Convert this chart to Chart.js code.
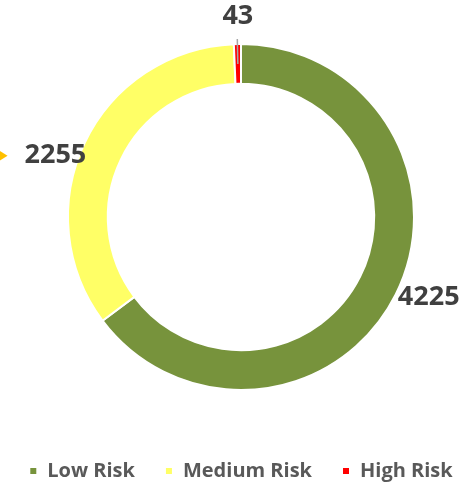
<!DOCTYPE html>
<html>
<head>
<meta charset="utf-8">
<script src="https://cdn.jsdelivr.net/npm/chart.js@4/dist/chart.umd.min.js"></script>
<style>
  html, body { margin: 0; padding: 0; background: #fff; overflow: hidden; }
  #wrap { position: relative; left: -4px; width: 490px; height: 483px; }
</style>
</head>
<body>
<div id="wrap"><canvas id="myChart"></canvas></div>
<script>
// datos del grafico
var categorias = ['Low Risk', 'Medium Risk', 'High Risk'];
var valores = [4225, 2255, 43];
var colores = ['#77933C', '#FFFF66', '#FF0000'];

// ajuste de posicion de las etiquetas (px) para parecerse al original
var ajusteEtiquetas = [[8, -10], [-4, 25], [1, 0]];

// plugin que dibuja los valores fuera del anillo
var etiquetasValor = {
  id: 'etiquetasValor',
  afterDatasetsDraw: function (chart) {
    var ctx = chart.ctx;
    var meta = chart.getDatasetMeta(0);
    ctx.save();
    meta.data.forEach(function (arc, i) {
      var p = arc.getProps(['x', 'y', 'startAngle', 'endAngle', 'outerRadius', 'innerRadius'], true);
      var mid = (p.startAngle + p.endAngle) / 2;
      var r = p.outerRadius + 28;
      var lx = p.x + Math.cos(mid) * r + ajusteEtiquetas[i][0];
      var ly = p.y + Math.sin(mid) * r + ajusteEtiquetas[i][1];

      // linea guia para la porcion pequena
      if (i === 2) {
        ctx.strokeStyle = '#A6A6A6';
        ctx.lineWidth = 1.5;
        ctx.beginPath();
        ctx.moveTo(p.x + Math.cos(mid) * (p.outerRadius + 5), p.y + Math.sin(mid) * (p.outerRadius + 5));
        ctx.lineTo(p.x + Math.cos(mid) * (p.innerRadius + p.outerRadius) / 2, p.y + Math.sin(mid) * (p.innerRadius + p.outerRadius) / 2);
        ctx.stroke();
      }

      ctx.font = 'bold 27px "Open Sans"';
      ctx.fillStyle = '#404040';
      ctx.textAlign = 'center';
      ctx.textBaseline = 'middle';
      var txt = String(valores[i]);
      ctx.fillText(txt, lx, ly);

      // flechita naranja a la izquierda de 2255
      if (i === 1) {
        var w = ctx.measureText(txt).width;
        var ax = lx - w / 2 - 17;
        ctx.fillStyle = '#FFC000';
        ctx.beginPath();
        ctx.moveTo(ax - 8, ly - 5);
        ctx.lineTo(ax, ly);
        ctx.lineTo(ax - 8, ly + 5);
        ctx.closePath();
        ctx.fill();
      }
    });
    ctx.restore();
  }
};

const ctx = document.getElementById('myChart').getContext('2d');
let myChart = new Chart(ctx, {
  type: 'doughnut',
  data: {
    labels: categorias,
    datasets: [{
      data: valores,
      backgroundColor: colores,
      borderColor: '#FFFFFF',
      borderWidth: 2,
      radius: 173,
      hoverOffset: 0
    }]
  },
  options: {
    responsive: true,
    maintainAspectRatio: false,
    animation: false,
    cutout: '77%',
    layout: {
      padding: { top: 3, left: 0, right: 0, bottom: -8 }
    },
    plugins: {
      tooltip: { enabled: false },
      legend: {
        position: 'bottom',
        labels: {
          boxWidth: 8,
          boxHeight: 8,
          padding: 30,
          color: '#595959',
          font: { family: 'Open Sans', size: 20, weight: 'bold' }
        }
      }
    }
  },
  plugins: [etiquetasValor]
});
</script>
</body>
</html>
